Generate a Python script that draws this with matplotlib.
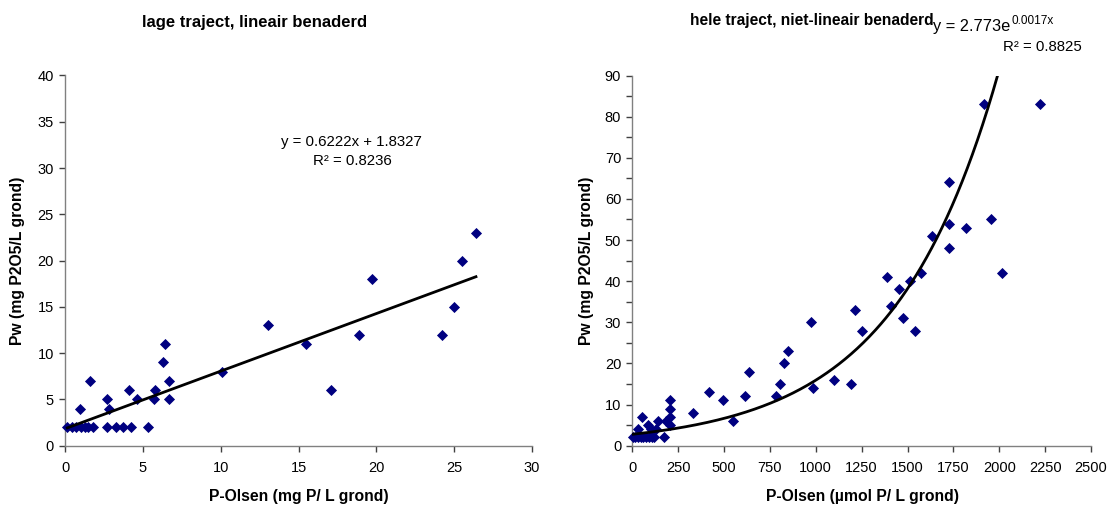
import numpy as np
import matplotlib
matplotlib.use("Agg")
import matplotlib.pyplot as plt
from matplotlib.ticker import MultipleLocator

plt.rcParams['font.family'] = ['Liberation Sans', 'DejaVu Sans']
plt.rcParams['mathtext.fontset'] = 'custom'
plt.rcParams['mathtext.rm'] = 'Liberation Sans'
plt.rcParams['mathtext.it'] = 'Liberation Sans:italic'
plt.rcParams['mathtext.bf'] = 'Liberation Sans:bold'

# ---- data: left chart (low range, linear fit) ----
x_left = [0.15, 0.43, 0.71, 1.0, 1.28, 1.5, 1.82, 2.72, 3.28, 3.75, 4.22, 5.35,
          0.96, 1.6, 2.7, 2.8, 4.1, 4.6, 5.7, 5.8, 6.3, 6.4, 6.7, 6.7,
          10.1, 13.05, 15.5, 17.1, 18.9, 19.7, 24.2, 25.0, 25.5, 26.4]
y_left = [2, 2, 2, 2, 2, 2, 2, 2, 2, 2, 2, 2,
          4, 7, 5, 4, 6, 5, 5, 6, 9, 11, 7, 5,
          8, 13, 11, 6, 12, 18, 12, 15, 20, 23]
lin_slope = 0.6222
lin_intercept = 1.8327

# ---- data: right chart (full range, exponential fit) ----
x_right = [5, 15, 30, 45, 60, 75, 90, 105, 120, 175,
           29, 53, 84, 100, 130, 138, 184, 205, 205, 205, 205,
           329, 420, 496, 550, 612, 636, 781, 803, 826, 850,
           972, 985, 1100, 1191, 1215, 1253, 1390, 1412, 1453, 1474,
           1516, 1543, 1574, 1636, 1727, 1727, 1727, 1818, 1915, 1954, 2014, 2220]
y_right = [2, 2, 2, 2, 2, 2, 2, 2, 2, 2,
           4, 7, 5, 4, 4, 6, 6, 11, 9, 7, 5,
           8, 13, 11, 6, 12, 18, 12, 15, 20, 23,
           30, 14, 16, 15, 33, 28, 41, 34, 38, 31,
           40, 28, 42, 51, 64, 54, 48, 53, 83, 55, 42, 83]
exp_a = 2.773
exp_b = 0.001748

titles = ["lage traject, lineair benaderd", "hele traject, niet-lineair benaderd"]
xlabels = ["P-Olsen (mg P/ L grond)", "P-Olsen (µmol P/ L grond)"]
ylabel = "Pw (mg P2O5/L grond)"

W, H = 1114, 507
fig = plt.figure(figsize=(W / 100, H / 100), dpi=100)

def fx(px):
    return px / W

def fy(py):
    return 1 - py / H

bottom = fy(445.7)
top = fy(75.5)
axL = fig.add_axes([fx(65), bottom, fx(532) - fx(65), top - bottom])
axR = fig.add_axes([fx(632.3), bottom, fx(1091) - fx(632.3), top - bottom])

marker_kw = dict(marker='D', color='#000080', s=32, linewidths=0, zorder=3, clip_on=False)
spine_col = '#808080'

for ax in (axL, axR):
    for s in ('top', 'right'):
        ax.spines[s].set_visible(False)
    for s in ('left', 'bottom'):
        ax.spines[s].set_color(spine_col)
        ax.spines[s].set_linewidth(1.0)
    ax.tick_params(direction='out', length=4, width=1, color='#404040',
                   labelsize=10.5, labelcolor='black')
    ax.tick_params(axis='x', pad=7)
    ax.tick_params(axis='y', pad=4)
    ax.tick_params(which='minor', direction='out', length=4, width=1, color='#404040')

# left
axL.scatter(x_left, y_left, **marker_kw)
xl = np.array([min(x_left), max(x_left)])
axL.plot(xl, lin_slope * xl + lin_intercept, color='black', lw=2.0, zorder=4)
axL.set_xlim(0, 30)
axL.set_ylim(0, 40)
axL.xaxis.set_major_locator(MultipleLocator(5))
axL.yaxis.set_major_locator(MultipleLocator(5))

# right
axR.scatter(x_right, y_right, **marker_kw)
xr = np.linspace(min(x_right), max(x_right), 400)
axR.plot(xr, exp_a * np.exp(exp_b * xr), color='black', lw=2.0, zorder=4)
axR.set_xlim(0, 2500)
axR.set_ylim(0, 90)
axR.xaxis.set_major_locator(MultipleLocator(250))
axR.yaxis.set_major_locator(MultipleLocator(10))
axR.yaxis.set_minor_locator(MultipleLocator(5))

# axis labels
lab_kw = dict(fontsize=11.3, fontweight='bold', ha='center', va='center')
fig.text(fx(299), fy(496), xlabels[0], **lab_kw)
fig.text(fx(862), fy(496), xlabels[1], **lab_kw)
fig.text(fx(18), fy(261), ylabel, rotation=90, **lab_kw)
fig.text(fx(586), fy(261), ylabel, rotation=90, **lab_kw)

# titles
fig.text(fx(255), fy(22), titles[0], ha='center', va='center', fontsize=12, fontweight='bold')
fig.text(fx(812), fy(21), titles[1], ha='center', va='center', fontsize=11.2, fontweight='bold')

# equations
fig.text(fx(351), fy(142), "y = 0.6222x + 1.8327", ha='center', va='center', fontsize=10.8)
fig.text(fx(352), fy(161), "R² = 0.8236", ha='center', va='center', fontsize=10.8)
base = fig.text(fx(933), fy(31), "y = 2.773e", ha='left', va='baseline', fontsize=11.8)
fig.canvas.draw()
bb = base.get_window_extent()
fig.text((bb.x1 + 1) / W, fy(24), "0.0017x", ha='left', va='baseline', fontsize=8.5)
fig.text(fx(1082), fy(47), "R² = 0.8825", ha='right', va='center', fontsize=10.8)

fig.savefig("out.png", dpi=100)
